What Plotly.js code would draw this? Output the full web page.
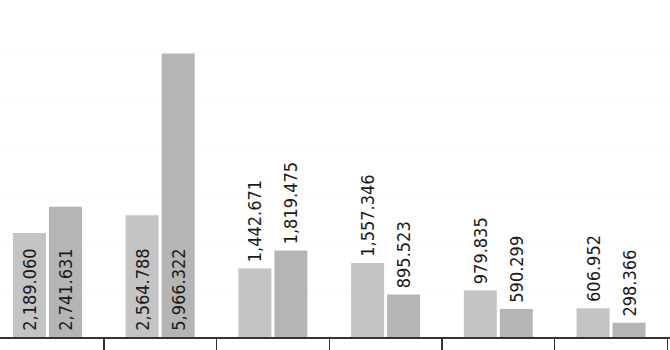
<!DOCTYPE html>
<html>
<head>
<meta charset="utf-8">
<script src="https://cdn.plot.ly/plotly-3.0.1.min.js"></script>
<style>html,body{margin:0;padding:0;background:#fff;}#chart{width:670px;height:350px;}</style>
</head>
<body>
<div id="chart"></div>
<script>
const categories = ["Group 1", "Group 2", "Group 3", "Group 4", "Group 5", "Group 6"];
const seriesA = [2189.060, 2564.788, 1442.671, 1557.346, 979.835, 606.952];
const seriesB = [2741.631, 5966.322, 1819.475, 895.523, 590.299, 298.366];
const seriesNames = ["Series A", "Series B"];
const colors = ["#c4c4c4", "#b5b5b5"];

// label goes inside the bar only when the bar is tall enough to hold it
function pos(v) { return v >= 2000 ? "inside" : "outside"; }
function fmt(v) {
  const s = v.toLocaleString("en-US", {minimumFractionDigits: 3, maximumFractionDigits: 3});
  // small leading pad so labels sit a little off the bar edge
  return "\u2009" + s;
}

const font = {family: "DejaVu Sans Condensed, DejaVu Sans, sans-serif", size: 18, color: "#1a1a1a"};
const common = {
  type: "bar",
  insidetextanchor: "start",
  textangle: -90,
  constraintext: "none",
  cliponaxis: false,
  textfont: font,
  insidetextfont: font,
  outsidetextfont: font,
  hoverinfo: "none"
};

const data = [
  Object.assign({}, common, {x: categories, y: seriesA, name: seriesNames[0], text: seriesA.map(fmt), textposition: seriesA.map(pos), marker: {color: colors[0]}}),
  Object.assign({}, common, {x: categories, y: seriesB, name: seriesNames[1], text: seriesB.map(fmt), textposition: seriesB.map(pos), marker: {color: colors[1]}})
];

const layout = {
  width: 670, height: 350,
  margin: {l: 0, r: 0, t: 5, b: 13, pad: 0},
  paper_bgcolor: "#ffffff", plot_bgcolor: "#ffffff",
  showlegend: false,
  barmode: "group",
  bargap: 0.361,
  bargroupgap: 0.083,
  xaxis: {
    type: "category",
    range: [-0.421, 5.523],
    showticklabels: false,
    tickson: "boundaries",
    ticks: "outside",
    ticklen: 14,
    tickwidth: 1.5,
    tickcolor: "#333333",
    showline: true,
    linecolor: "#333333",
    linewidth: 2,
    showgrid: false,
    zeroline: false,
    fixedrange: true
  },
  yaxis: {
    range: [0, 6990],
    dtick: 1000,
    showticklabels: false,
    showgrid: true,
    gridcolor: "#fafafa",
    gridwidth: 1,
    zeroline: false,
    showline: false,
    ticks: "",
    fixedrange: true
  }
};

Plotly.newPlot("chart", data, layout, {displayModeBar: false, staticPlot: true});
</script>
</body>
</html>
